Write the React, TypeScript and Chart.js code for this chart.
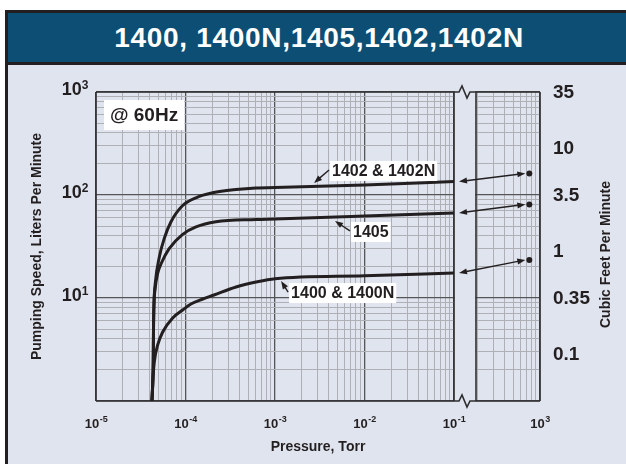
import React, { useEffect, useRef } from 'react';
import { Chart, registerables } from 'chart.js';

Chart.register(...registerables);

// ---------- text ----------
const TITLE = '1400, 1400N,1405,1402,1402N';
const X_TITLE = 'Pressure, Torr';
const Y_TITLE = 'Pumping Speed, Liters Per Minute';
const Y2_TITLE = 'Cubic Feet Per Minute';
const NOTE = '@ 60Hz';

// ---------- data (pressure in Torr, speed in L/min) ----------
const SERIES_NAMES = ['1402 & 1402N', '1405', '1400 & 1400N'];
const PRESSURE_1402 = [4.22e-5, 4.31e-5, 4.36e-5, 4.39e-5, 4.44e-5, 4.6e-5, 5.1e-5, 5.8e-5, 6.89e-5, 9.3e-5, 1.31e-4, 2.01e-4, 3.67e-4, 6.13e-4, 1e-3, 1e-2, 1e-1];
const SPEED_1402 = [1, 1.53, 2.4, 4.9, 8.5, 14, 25, 38, 55, 79, 94, 105, 113, 117, 118, 125, 135];
const PRESSURE_1405 = [4.22e-5, 4.31e-5, 4.36e-5, 4.39e-5, 4.44e-5, 4.56e-5, 4.9e-5, 5.4e-5, 6.54e-5, 9.3e-5, 1.31e-4, 2.19e-4, 6.13e-4, 1e-3, 1e-2, 1e-1];
const SPEED_1405 = [1, 1.53, 2.4, 4.9, 8.5, 12, 17.5, 22, 30, 41.5, 49, 55, 57.8, 58.5, 62.5, 67];
const PRESSURE_1400 = [4.22e-5, 4.31e-5, 4.48e-5, 4.89e-5, 5.56e-5, 7.19e-5, 9.3e-5, 1.15e-4, 1.56e-4, 2.08e-4, 3.67e-4, 6.13e-4, 1e-3, 1e-2, 1e-1];
const SPEED_1400 = [1, 1.53, 2.39, 3.5, 4.68, 6.4, 7.65, 8.74, 9.78, 10.7, 12.8, 14.3, 15.4, 16.4, 17.5];

// speed at atmospheric pressure (dots at right)
const ATM_PRESSURE = 760;
const ATM_SPEEDS = [162, 81, 23.4];

// label arrow tips (on the curves)
const LABEL_PRESSURES = [2.73e-3, 4.68e-3, 1.17e-3];
const LABEL_SPEEDS = [131, 56, 14.6];

// ticks
const X_TICK_EXPONENTS = [-5, -4, -3, -2, -1, 3];
const Y_TICK_EXPONENTS = [1, 2, 3];
const CFM_TICKS = [0.1, 0.35, 1, 3.5, 10, 35];
const LPM_TO_CFM = 0.0353147;

// ---------- broken x axis geometry (in decades) ----------
const X_MIN = -5;
const X_BREAK = -1;
const GAP_DEC = 0.246;
const PANEL_DEC = 0.715;
const PANEL_U0 = X_BREAK + GAP_DEC;
const X_MAX = PANEL_U0 + PANEL_DEC;
const PANEL_OFFSET = 3 - X_MAX;
const u = (p: number) => {
  const l = Math.log10(p);
  return l <= X_BREAK + 1e-9 ? l : l - PANEL_OFFSET;
};

const X_GRID: number[] = [];
for (let e = -5; e <= -2; e++) for (let k = 1; k <= 9; k++) X_GRID.push(u(k * Math.pow(10, e)));
X_GRID.push(u(0.1));
for (let k = 2; k <= 10; k++) X_GRID.push(u(k * 100));

const Y_GRID: number[] = [];
for (let e = 0; e <= 2; e++) for (let k = 1; k <= 9; k++) Y_GRID.push(k * Math.pow(10, e));
Y_GRID.push(1000);

// ---------- styles ----------
const FONT = '"Liberation Sans", Arial, Helvetica, sans-serif';
const INK = '#231f20';
const BG = '#dfe4ee';
const BLUE = '#0d4f74';
const MAJOR = '#555557';
const MINOR = '#aeb0b6';
const BORDER = '#2f2e30';
const LABEL_OFFSETS = [[16, -12], [16, 11], [8, 12]];

const xMajorExp = (v: number) => X_TICK_EXPONENTS.find((e) => Math.abs(u(Math.pow(10, e)) - v) < 1e-6);
const isYMajor = (v: number) => Math.abs(Math.log10(v) - Math.round(Math.log10(v))) < 1e-6;

function arrowHead(ctx: CanvasRenderingContext2D, fx: number, fy: number, tx: number, ty: number, len = 8, half = 3) {
  const a = Math.atan2(ty - fy, tx - fx);
  ctx.beginPath();
  ctx.moveTo(tx, ty);
  ctx.lineTo(tx - len * Math.cos(a) + half * Math.sin(a), ty - len * Math.sin(a) - half * Math.cos(a));
  ctx.lineTo(tx - len * Math.cos(a) - half * Math.sin(a), ty - len * Math.sin(a) + half * Math.cos(a));
  ctx.closePath();
  ctx.fill();
}

function arrow(ctx: CanvasRenderingContext2D, fx: number, fy: number, tx: number, ty: number, both: boolean) {
  const a = Math.atan2(ty - fy, tx - fx);
  const s = 5;
  ctx.beginPath();
  ctx.moveTo(both ? fx + s * Math.cos(a) : fx, both ? fy + s * Math.sin(a) : fy);
  ctx.lineTo(tx - s * Math.cos(a), ty - s * Math.sin(a));
  ctx.stroke();
  arrowHead(ctx, fx, fy, tx, ty);
  if (both) arrowHead(ctx, tx, ty, fx, fy);
}

const SERIES_P = [PRESSURE_1402, PRESSURE_1405, PRESSURE_1400];
const SERIES_S = [SPEED_1402, SPEED_1405, SPEED_1400];

const decorPlugin = {
  id: 'decor',
  beforeDatasetsDraw(chart: any) {
    const { ctx, chartArea } = chart;
    const { left, right, top, bottom } = chartArea;
    const xs = chart.scales.x;
    const xa = xs.getPixelForValue(X_BREAK);
    const xb = xs.getPixelForValue(PANEL_U0);
    ctx.save();
    ctx.fillStyle = BG;
    ctx.fillRect(xa + 0.8, top - 1, xb - xa - 1.6, bottom - top + 2);
    ctx.strokeStyle = BORDER;
    ctx.lineWidth = 1.6;
    for (const px of [left, xa, xb, right]) {
      ctx.beginPath();
      ctx.moveTo(px, top);
      ctx.lineTo(px, bottom);
      ctx.stroke();
    }
    const zig = (y: number) => {
      ctx.beginPath();
      ctx.moveTo(left, y);
      ctx.lineTo(xa + 5, y);
      ctx.lineTo(xa + 8, y - 6);
      ctx.lineTo(xa + 13, y + 6);
      ctx.lineTo(xa + 16, y);
      ctx.lineTo(right, y);
      ctx.stroke();
    };
    zig(top);
    zig(bottom);
    ctx.restore();
  },
  afterDatasetsDraw(chart: any) {
    const { ctx, chartArea } = chart;
    const { left, top, bottom } = chartArea;
    const xs = chart.scales.x;
    const ys = chart.scales.y;
    ctx.save();
    ctx.fillStyle = INK;
    ctx.strokeStyle = INK;
    ctx.lineWidth = 1.4;
    ctx.textBaseline = 'middle';
    ctx.textAlign = 'left';

    // @ 60Hz box
    ctx.font = `bold 19px ${FONT}`;
    const nw = ctx.measureText(NOTE).width;
    ctx.fillStyle = '#ffffff';
    ctx.fillRect(left + 8, top + 8, nw + 12, 30);
    ctx.fillStyle = INK;
    ctx.fillText(NOTE, left + 14, top + 24);

    // series labels with arrows
    ctx.font = `bold 16px ${FONT}`;
    SERIES_NAMES.forEach((name, i) => {
      const tx = xs.getPixelForValue(u(LABEL_PRESSURES[i]));
      const ty = ys.getPixelForValue(LABEL_SPEEDS[i]);
      const bx = tx + LABEL_OFFSETS[i][0];
      const by = ty + LABEL_OFFSETS[i][1];
      const w = ctx.measureText(name).width;
      ctx.fillStyle = '#ffffff';
      ctx.fillRect(bx, by - 10, w + 4, 20);
      ctx.fillStyle = INK;
      ctx.fillText(name, bx + 2, by + 1);
      arrow(ctx, bx - 1, by - 1, tx, ty, false);
    });

    // double arrows from curve end to atmospheric dot
    SERIES_P.forEach((ps, i) => {
      const ex = xs.getPixelForValue(u(ps[ps.length - 1]));
      const ey = ys.getPixelForValue(SERIES_S[i][SERIES_S[i].length - 1]);
      const dx = xs.getPixelForValue(u(ATM_PRESSURE));
      const dy = ys.getPixelForValue(ATM_SPEEDS[i]);
      arrow(ctx, ex + 5, ey, dx - 4, dy, true);
    });

    // right axis title (reads bottom to top)
    ctx.font = `bold 14px ${FONT}`;
    ctx.textAlign = 'center';
    ctx.translate(606, (top + bottom) / 2 + 8);
    ctx.rotate(-Math.PI / 2);
    ctx.fillText(Y2_TITLE, 0, 0);
    ctx.restore();
  },
  afterDraw(chart: any) {
    // power-of-ten tick labels with real superscripts
    const { ctx, chartArea } = chart;
    const xs = chart.scales.x;
    const ys = chart.scales.y;
    ctx.save();
    ctx.fillStyle = INK;
    ctx.textAlign = 'left';
    ctx.textBaseline = 'alphabetic';
    for (const e of X_TICK_EXPONENTS) {
      const px = xs.getPixelForValue(u(Math.pow(10, e)));
      const sup = String(e);
      ctx.font = `bold 13px ${FONT}`;
      const w1 = ctx.measureText('10').width;
      ctx.font = `bold 9px ${FONT}`;
      const w2 = ctx.measureText(sup).width;
      const x0 = px - (w1 + w2) / 2;
      ctx.font = `bold 13px ${FONT}`;
      ctx.fillText('10', x0, chartArea.bottom + 27);
      ctx.font = `bold 9px ${FONT}`;
      ctx.fillText(sup, x0 + w1 + 0.5, chartArea.bottom + 20.5);
    }
    for (const e of Y_TICK_EXPONENTS) {
      const py = ys.getPixelForValue(Math.pow(10, e));
      const sup = String(e);
      ctx.font = `bold 12px ${FONT}`;
      const w2 = ctx.measureText(sup).width;
      ctx.font = `bold 18px ${FONT}`;
      const w1 = ctx.measureText('10').width;
      const xr = chartArea.left - 7.5;
      ctx.fillText('10', xr - w2 - w1, py + 2.5);
      ctx.font = `bold 12px ${FONT}`;
      ctx.fillText(sup, xr - w2, py - 3.5);
    }
    ctx.restore();
  },
};

export default function App() {
  const ref = useRef<HTMLCanvasElement>(null);
  useEffect(() => {
    const lineDs = SERIES_NAMES.map((name, i) => ({
      type: 'line' as const,
      label: name,
      data: SERIES_P[i].map((p, j) => ({ x: u(p), y: SERIES_S[i][j] })),
      borderColor: INK,
      borderWidth: 3,
      pointRadius: 0,
      cubicInterpolationMode: 'monotone' as const,
      fill: false,
      xAxisID: 'x',
      yAxisID: 'y',
    }));
    const dotDs = {
      type: 'line' as const,
      label: 'Atmospheric',
      data: ATM_SPEEDS.map((s) => ({ x: u(ATM_PRESSURE), y: s })),
      showLine: false,
      pointRadius: 3,
      pointBackgroundColor: INK,
      pointBorderWidth: 0,
      xAxisID: 'x',
      yAxisID: 'y',
    };
    const chart = new Chart(ref.current as HTMLCanvasElement, {
      type: 'line',
      data: { datasets: [...lineDs, dotDs] as any },
      plugins: [decorPlugin],
      options: {
        responsive: false,
        animation: false,
        devicePixelRatio: 1,
        events: [],
        layout: { padding: { left: 0, right: 0, top: 92, bottom: 0 } },
        plugins: { legend: { display: false }, tooltip: { enabled: false }, title: { display: false } },
        scales: {
          x: {
            type: 'linear',
            min: X_MIN,
            max: X_MAX,
            afterBuildTicks: (s: any) => { s.ticks = X_GRID.map((v) => ({ value: v })); },
            afterFit: (s: any) => { s.height = 63; },
            ticks: { display: false, autoSkip: false },
            grid: {
              drawTicks: false,
              color: (c: any) => (xMajorExp(c.tick.value) !== undefined ? MAJOR : MINOR),
              lineWidth: (c: any) => (xMajorExp(c.tick.value) !== undefined ? 1.3 : 1),
            },
            border: { display: false },
            title: { display: true, text: X_TITLE, color: INK, font: { family: FONT, size: 14, weight: 'bold' }, padding: { top: 0, bottom: 8 } },
          },
          y: {
            type: 'logarithmic',
            position: 'left',
            min: 1,
            max: 1000,
            afterBuildTicks: (s: any) => { s.ticks = Y_GRID.map((v) => ({ value: v })); },
            afterFit: (s: any) => { s.width = 96; },
            ticks: { display: false, autoSkip: false },
            grid: {
              drawTicks: false,
              color: (c: any) => (isYMajor(c.tick.value) ? MAJOR : MINOR),
              lineWidth: (c: any) => (isYMajor(c.tick.value) ? 1.3 : 1),
            },
            border: { display: false },
            title: { display: true, text: Y_TITLE, color: INK, font: { family: FONT, size: 14, weight: 'bold' }, padding: { top: 29, bottom: 0 } },
          },
          y2: {
            type: 'logarithmic',
            position: 'right',
            min: 1 * LPM_TO_CFM,
            max: 1000 * LPM_TO_CFM,
            afterBuildTicks: (s: any) => { s.ticks = CFM_TICKS.map((v) => ({ value: v })); },
            afterFit: (s: any) => { s.width = 86; },
            ticks: {
              autoSkip: false,
              padding: 5,
              color: INK,
              font: { family: FONT, size: 19, weight: 'bold' },
              callback: (v: any) => String(v),
            },
            grid: { display: false },
            border: { display: false },
          },
        },
      } as any,
    });
    return () => chart.destroy();
  }, []);

  return (
    <div style={{ position: 'absolute', left: 0, top: 0, width: 626, height: 464, overflow: 'hidden', background: '#ffffff', fontFamily: FONT }}>
      <div style={{ position: 'absolute', left: 5, top: 10, width: 640, height: 480, boxSizing: 'border-box', border: `3px solid ${INK}`, background: BG }} />
      <div style={{ position: 'absolute', left: 8, top: 13, width: 622, height: 49, background: BLUE, borderBottom: `3px solid ${INK}`, color: '#ffffff', fontWeight: 'bold', fontSize: 28, letterSpacing: '0.7px', lineHeight: '50px', textAlign: 'center', whiteSpace: 'nowrap' }}>
        {TITLE}
      </div>
      <canvas ref={ref} width={626} height={464} style={{ position: 'absolute', left: 0, top: 0, display: 'block' }} />
    </div>
  );
}
